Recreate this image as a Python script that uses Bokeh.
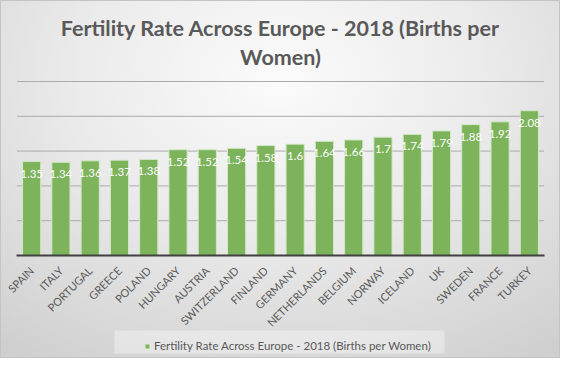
import math
from bokeh.plotting import figure
from bokeh.models import (ColumnDataSource, Range1d, FactorRange, Label,
                          Legend, LegendItem, BoxAnnotation, InlineStyleSheet)
from bokeh.core.properties import value
from bokeh.embed import file_html
from bokeh.resources import INLINE

# ---- data ----
countries = ["SPAIN", "ITALY", "PORTUGAL", "GREECE", "POLAND", "HUNGARY", "AUSTRIA",
             "SWITZERLAND", "FINLAND", "GERMANY", "NETHERLANDS", "BELGIUM", "NORWAY",
             "ICELAND", "UK", "SWEDEN", "FRANCE", "TURKEY"]
rates = [1.35, 1.34, 1.36, 1.37, 1.38, 1.52, 1.52, 1.54, 1.58, 1.6, 1.64, 1.66, 1.7,
         1.74, 1.79, 1.88, 1.92, 2.08]
rate_labels = ["1.35", "1.34", "1.36", "1.37", "1.38", "1.52", "1.52", "1.54", "1.58",
               "1.6", "1.64", "1.66", "1.7", "1.74", "1.79", "1.88", "1.92", "2.08"]
title_lines = ["Fertility Rate Across Europe - 2018 (Births per", "Women)"]
series_name = "Fertility Rate Across Europe - 2018 (Births per Women)"
y_ticks = [0.5, 1.0, 1.5, 2.0, 2.5]
y_max = 2.5

FONT = "Lato"
GREY = "#595959"

# ---- layout (pixels) ----
W, H = 560, 358
PLOT_TOP, PLOT_BOTTOM = 81, 255          # pixel rows of y=y_max and y=0
ppu = (PLOT_BOTTOM - PLOT_TOP) / y_max   # pixels per unit
y_hi = y_max + PLOT_TOP / ppu
y_lo = -(H - PLOT_BOTTOM) / ppu

source = ColumnDataSource(data=dict(country=countries, rate=rates, label=rate_labels))

p = figure(width=W, height=H,
           x_range=FactorRange(factors=countries, range_padding=0.0626,
                               range_padding_units="percent"),
           y_range=Range1d(y_lo, y_hi),
           output_backend="svg", toolbar_location=None, y_axis_location=None,
           min_border_left=0, min_border_right=0, min_border_top=0, min_border_bottom=0)

p.stylesheets = [InlineStyleSheet(css="""
:host {
  background: radial-gradient(ellipse 80% 95% at 50% 22%, #fbfbfb 0%, #ebebeb 45%, #cfcfcf 100%) !important;
  box-shadow: inset 0 0 0 1px #c4c4c4;
}
""")]
p.border_fill_color = None
p.background_fill_color = None
p.outline_line_color = None
p.xgrid.visible = False
p.ygrid.visible = False

# horizontal gridlines spanning the category band
n = len(y_ticks)
p.segment(x0=[(countries[0], -0.5)] * n, x1=[(countries[-1], 0.5)] * n,
          y0=y_ticks, y1=y_ticks, line_color="#ababab", line_width=1)

bars = p.vbar(x="country", top="rate", width=0.62, source=source,
              fill_color="#7cb35b", line_color="#d4e7c8", line_width=1)

p.text(x="country", y="rate", text="label", source=source,
       text_align="center", text_baseline="middle", y_offset=12,
       text_color="white", text_font=value(FONT), text_font_size=value("11.5px"))

# category axis drawn at y = 0 inside the frame
ax = p.xaxis[0]
ax.fixed_location = 0
ax.bounds = (0, len(countries))
ax.axis_line_color = "#404040"
ax.axis_line_width = 2
ax.major_tick_line_color = None
ax.minor_tick_line_color = None
ax.major_label_orientation = math.pi / 4
ax.major_label_standoff = 7
ax.major_label_text_font = FONT
ax.major_label_text_font_size = "11px"
ax.major_label_text_color = GREY

# title (two centred lines)
for txt, yb in zip(title_lines, [H - 27.5, H - 56]):
    p.add_layout(Label(x=W / 2, y=yb, x_units="screen", y_units="screen", text=txt,
                       text_align="center", text_baseline="alphabetic",
                       text_font=FONT, text_font_style="bold", text_font_size="21.5px",
                       text_color=GREY))

# legend box + legend
p.add_layout(BoxAnnotation(left=114, right=444, bottom=5, top=28,
                           left_units="screen", right_units="screen",
                           top_units="screen", bottom_units="screen",
                           fill_color="#ffffff", fill_alpha=0.35, line_color=None))

legend = Legend(items=[LegendItem(label=series_name, renderers=[bars])],
                location=(144, 5), padding=4, margin=0, spacing=0,
                glyph_width=6, glyph_height=6, label_height=15, label_standoff=4,
                label_text_font=FONT, label_text_font_size="11.5px",
                label_text_color=GREY, background_fill_alpha=0,
                border_line_color=None)
p.add_layout(legend, "center")

open("out.html", "w").write(file_html(p, INLINE))
